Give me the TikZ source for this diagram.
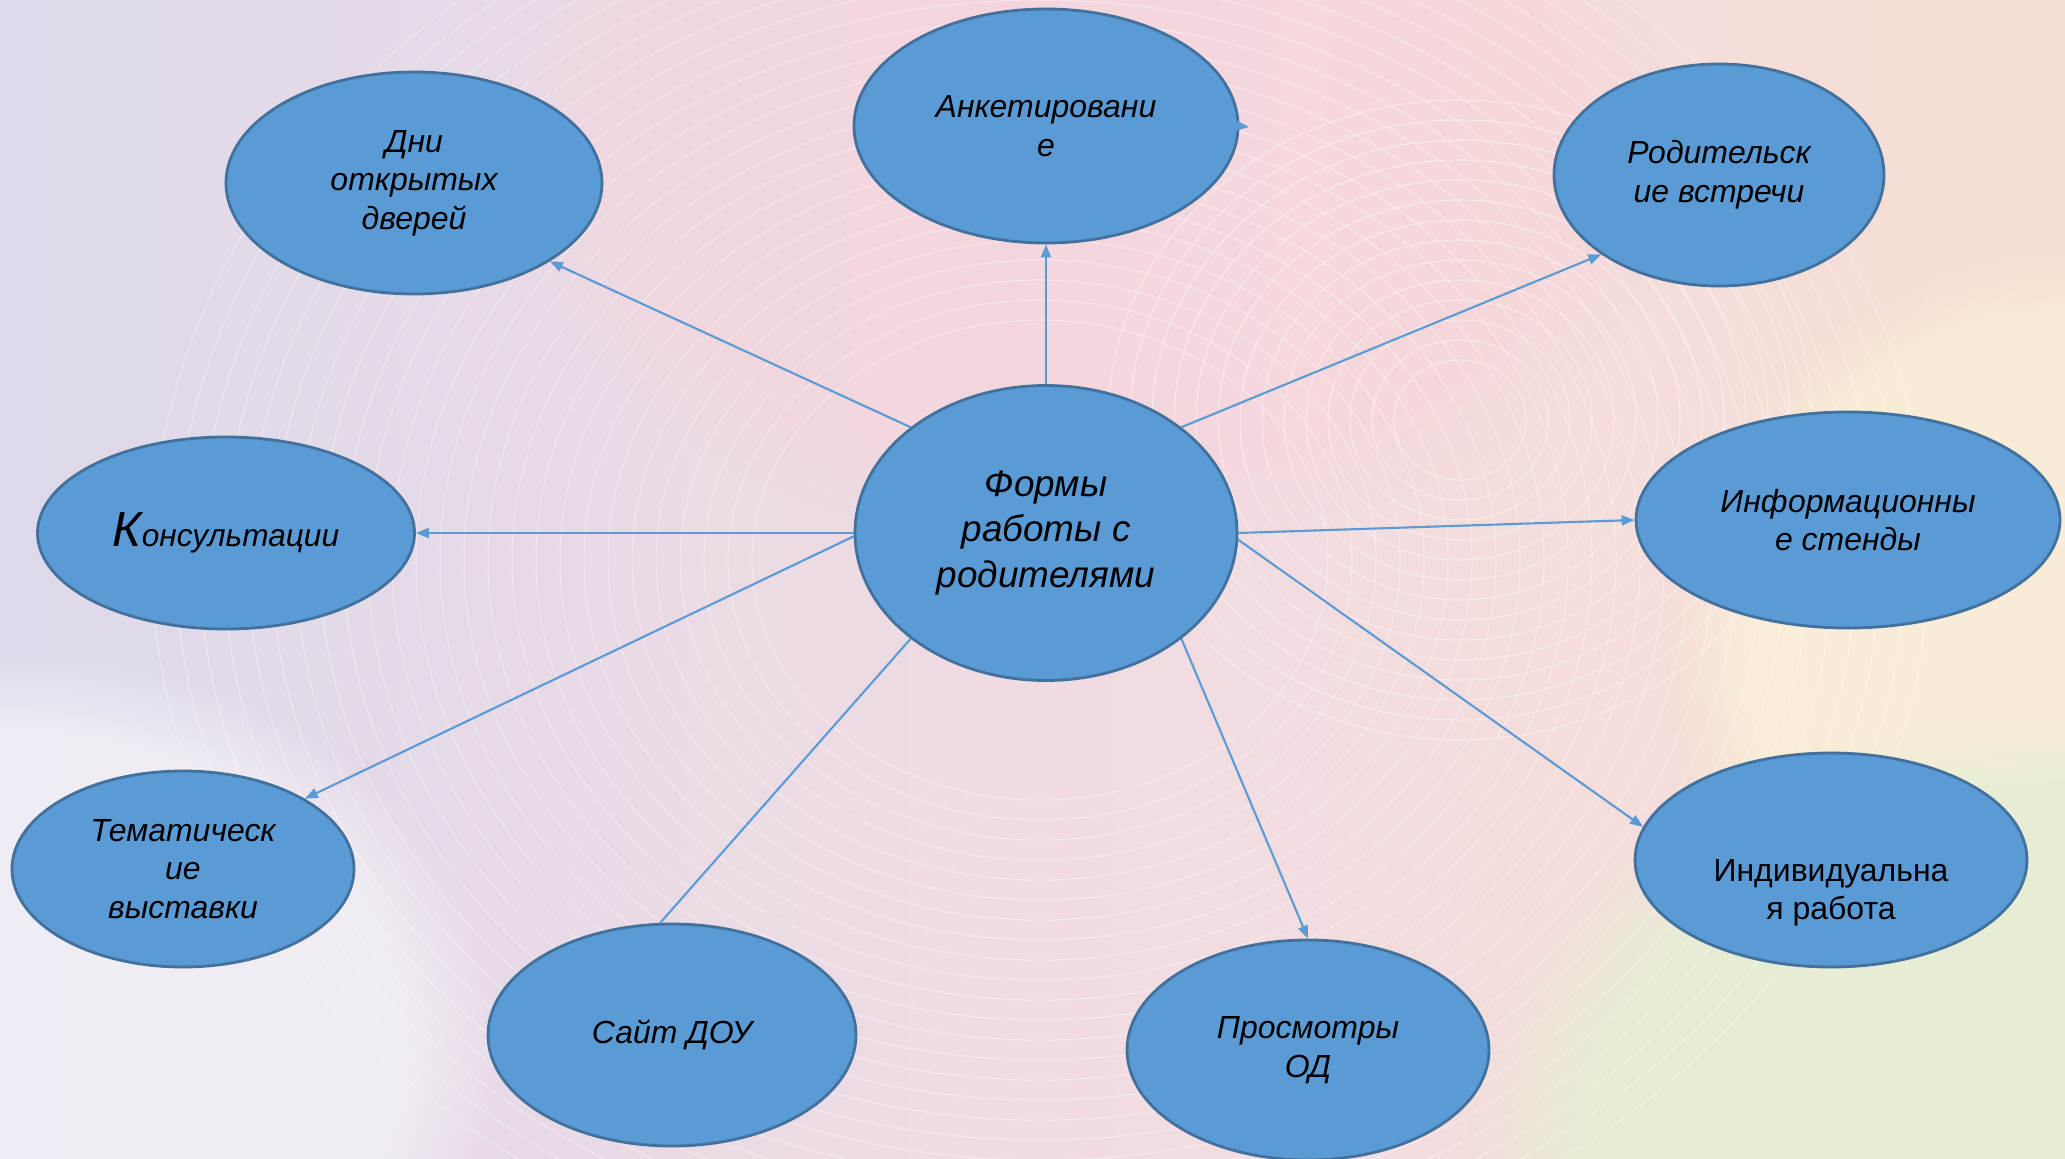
\documentclass[tikz,border=0pt]{standalone}
\usepackage{fontspec}
\setmainfont{Liberation Sans}
\usetikzlibrary{arrows.meta,shapes.geometric,fadings}

\definecolor{bubble}{RGB}{91,155,213}
\definecolor{bubbleline}{RGB}{65,113,156}
\definecolor{greentint}{RGB}{230,238,212}
\definecolor{pinktint}{RGB}{247,212,218}
\definecolor{creamtint}{RGB}{250,240,216}

\pgfdeclarehorizontalshading{slidebg}{100bp}{
  rgb(0bp)=(0.82,0.90,0.95);
  rgb(22bp)=(0.86,0.85,0.92);
  rgb(50bp)=(0.94,0.86,0.89);
  rgb(75bp)=(0.97,0.87,0.83);
  rgb(100bp)=(0.97,0.93,0.86)}

\begin{document}
\begin{tikzpicture}
    [
      topic/.style={ellipse,draw=bubbleline,line width=0.8pt,fill=bubble,
        inner sep=1pt,align=center,font=\itshape\fontsize{9.1}{11}\selectfont},
      link/.style={-{Triangle[length=1.3mm,width=1mm]},line width=0.6pt,draw=bubble}
    ]

    % slide background
    \useasboundingbox (0,0) rectangle (20.65,-11.58);
    \shade [shading=slidebg] (0,0) rectangle (20.65,-11.58);
    \begin{scope}
      \clip (0,0) rectangle (20.65,-11.58);
      \fill [pinktint,opacity=0.6,path fading=circle with fuzzy edge 20 percent]
        (11,-1.5) ellipse (6 and 4);
      \fill [creamtint,opacity=0.8,path fading=circle with fuzzy edge 20 percent]
        (20.65,-6.5) ellipse (4 and 4);
      \fill [greentint,opacity=0.9,path fading=circle with fuzzy edge 20 percent]
        (20.65,-11.58) ellipse (6 and 4.5);
      \fill [white,opacity=0.5,path fading=circle with fuzzy edge 20 percent]
        (0,-10.5) ellipse (5 and 4);
      \foreach \r in {2.4,2.6,...,7.6}
        \draw [white,opacity=0.4,line width=0.3pt] (10.4,-5.6) ellipse ({1.2*\r} and \r);
      \foreach \r in {0.6,0.8,...,3.2}
        \draw [white,opacity=0.45,line width=0.3pt] (14.6,-4.2) ellipse ({1.1*\r} and \r);
    \end{scope}

    \node at (10.46,-5.33) [topic,minimum width=3.82cm,minimum height=2.95cm,
      font=\itshape\fontsize{10.5}{13}\selectfont] (forms) {Формы\\работы с\\родителями};
    \node at (4.14,-1.83) [topic,minimum width=3.76cm,minimum height=2.22cm] (days) {Дни\\открытых\\дверей};
    \node at (10.46,-1.26) [topic,minimum width=3.84cm,minimum height=2.34cm] (survey) {Анкетировани\\е};
    \node at (17.19,-1.75) [topic,minimum width=3.30cm,minimum height=2.22cm] (meetings) {Родительск\\ие встречи};
    \node at (18.48,-5.20) [topic,minimum width=4.24cm,minimum height=2.16cm] (boards) {Информационны\\е стенды};
    \node at (18.31,-8.60) [topic,minimum width=3.92cm,minimum height=2.14cm,
      font=\fontsize{9.1}{11}\selectfont] (personal) {\rule{0pt}{14pt}\\Индивидуальна\\я работа};
    \node at (13.08,-10.50) [topic,minimum width=3.62cm,minimum height=2.20cm] (lessons) {Просмотры\\ОД};
    \node at (6.72,-10.35) [topic,minimum width=3.68cm,minimum height=2.22cm] (website) {Сайт ДОУ};
    \node at (1.83,-8.69) [topic,minimum width=3.42cm,minimum height=1.96cm] (shows) {Тематическ\\ие\\выставки};
    \node at (2.26,-5.33) [topic,minimum width=3.77cm,minimum height=1.92cm,
      font=\itshape\fontsize{9}{12}\selectfont] (advice) {{\fontsize{14}{16}\selectfont К}онсультации};

    \coordinate (surveytip) at (12.49,-1.27);

    \draw [link] (forms.142) to (days.-30);
    \draw [link] (forms.north) to (survey.south);
    \draw [link] (survey.east) to (surveytip);
    \draw [link] (forms.38) to (meetings.214);
    \draw [link] (forms.east) to (boards.west);
    \draw [link] (forms.-2) to (personal.170);
    \draw [link] (forms.-38) to (lessons.north);
    \draw [link,-] (forms.218) to (website.96);
    \draw [link] (forms.west) to (advice.east);
    \draw [link] (forms.181) to (shows.30);
  \end{tikzpicture}
\end{document}
